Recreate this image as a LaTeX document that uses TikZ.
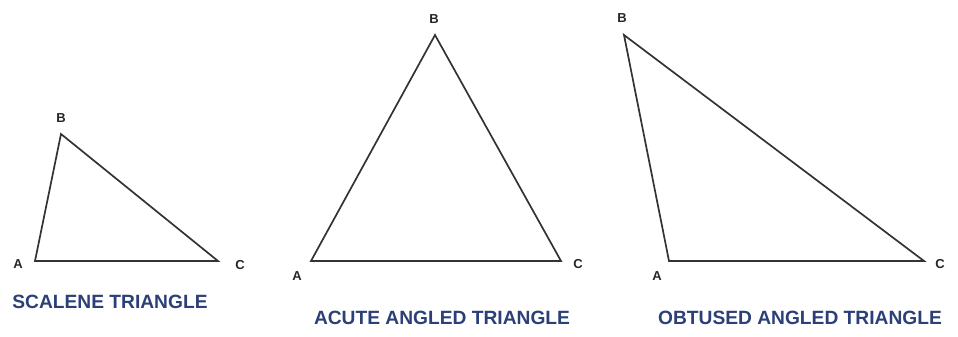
\documentclass[tikz,border=0pt]{standalone}
\usepackage{fontspec}
\setmainfont{Liberation Sans}
\usepackage{xcolor}
\usepackage{tikz}
\usetikzlibrary{positioning}

\definecolor{capblue}{HTML}{2B3F78}
\definecolor{sideline}{HTML}{333333}

\begin{document}
\begin{tikzpicture}[
  x=1pt, y=-1pt,
  side/.style={draw=sideline, line width=1.7pt, line join=miter},
  vlabel/.style={font=\fontsize{13}{13}\selectfont\bfseries, text=black!85, inner sep=0pt},
  caption/.style={font=\fontsize{19.2}{20}\selectfont\bfseries, text=capblue, inner sep=0pt}
]
  \useasboundingbox (0,0) rectangle (958,337);

  % scalene triangle
  \coordinate (a1) at (35,261);
  \coordinate (b1) at (61,134);
  \coordinate (c1) at (218,261);
  \draw[side] (a1) -- (b1) -- (c1) -- cycle;
  \node[vlabel] (la1) at (18,264) {A};
  \node[vlabel] (lb1) at (61,118) {B};
  \node[vlabel] (lc1) at (240,265) {C};
  \node[caption] (t1) at (110,302) {SCALENE TRIANGLE};

  % acute angled triangle
  \coordinate (a2) at (311,261);
  \coordinate (b2) at (435,35);
  \coordinate (c2) at (561,261);
  \draw[side] (a2) -- (b2) -- (c2) -- cycle;
  \node[vlabel] (la2) at (297,276) {A};
  \node[vlabel] (lb2) at (434,19) {B};
  \node[vlabel] (lc2) at (578,264) {C};
  \node[caption] (t2) at (442,318) {ACUTE ANGLED TRIANGLE};

  % obtuse angled triangle
  \coordinate (a3) at (669,261);
  \coordinate (b3) at (624,35);
  \coordinate (c3) at (924,261);
  \draw[side] (a3) -- (b3) -- (c3) -- cycle;
  \node[vlabel] (la3) at (657,276) {A};
  \node[vlabel] (lb3) at (622,18) {B};
  \node[vlabel] (lc3) at (940,264) {C};
  \node[caption] (t3) at (800,318) {OBTUSED ANGLED TRIANGLE};
\end{tikzpicture}
\end{document}
